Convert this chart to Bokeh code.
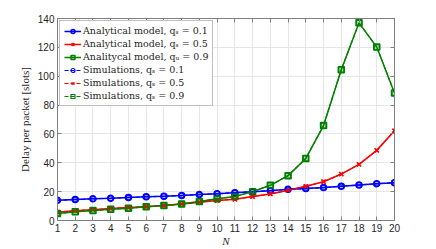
from bokeh.plotting import figure
from bokeh.models import LinearAxis, Legend, LegendItem, FixedTicker, Range1d
from bokeh.embed import file_html
from bokeh.resources import INLINE

N = list(range(1, 21))
ana_q01 = [14.0, 14.5, 15.0, 15.4, 15.9, 16.4, 16.8, 17.3, 18.0, 18.6,
           19.3, 20.0, 20.7, 21.6, 22.2, 22.8, 23.7, 24.6, 25.5, 26.2]
ana_q05 = [5.8, 6.8, 7.5, 8.3, 9.0, 9.5, 10.4, 11.5, 12.7, 13.8,
           14.7, 16.6, 18.4, 20.9, 23.7, 26.9, 32.2, 38.9, 48.6, 62.2]
ana_q09 = [4.9, 6.0, 6.9, 7.8, 8.5, 9.5, 10.4, 11.5, 13.1, 15.0,
           16.6, 20.0, 24.4, 31.1, 43.0, 65.8, 104.5, 137.0, 120.2, 88.4]
sim_q01 = [14.0, 14.5, 15.0, 15.4, 15.9, 16.4, 16.8, 17.3, 18.0, 18.6,
           19.3, 20.0, 20.7, 21.6, 22.1, 22.8, 23.7, 24.6, 25.5, 26.2]
sim_q05 = [5.8, 6.8, 7.5, 8.3, 9.0, 9.5, 10.4, 11.5, 12.7, 13.8,
           14.7, 16.6, 18.4, 20.9, 23.7, 26.9, 32.2, 38.9, 48.6, 62.2]
sim_q09 = [4.9, 6.0, 6.9, 7.8, 8.5, 9.5, 10.4, 11.5, 13.1, 15.0,
           16.6, 20.0, 24.4, 31.1, 43.0, 65.8, 104.5, 137.0, 120.2, 88.4]

labels_ana = ["Analytical model, q\u209b = 0.1",
              "Analytical model, q\u209b = 0.5",
              "Analitycal model, q\u1d64 = 0.9"]
labels_sim = ["Simulations, q\u209b = 0.1",
              "Simulations, q\u209b = 0.5",
              "Simulations, q\u209b = 0.9"]
colors = ["#0000ff", "#ff0000", "#008000"]
markers = ["circle", "x", "square"]

y_ticks = [0, 20, 40, 60, 80, 100, 120, 140]

p = figure(width=436, height=249, output_backend="svg", toolbar_location=None,
           x_range=Range1d(1, 20), y_range=Range1d(0, 140),
           min_border_left=57, min_border_right=42, min_border_top=18,
           min_border_bottom=28)
p.background_fill_color = "white"
p.border_fill_color = "white"
p.outline_line_color = "#808080"
p.outline_line_width = 1

axis_col = "#808080"
for ax in [p.xaxis[0], p.yaxis[0]]:
    ax.axis_line_color = axis_col
    ax.major_tick_line_color = axis_col
    ax.major_tick_in = 4
    ax.major_tick_out = 0
    ax.minor_tick_line_color = None
    ax.major_label_text_font = "Liberation Sans"
    ax.major_label_text_font_size = "10px"
    ax.major_label_text_color = "#262626"
    ax.axis_label_text_font = "Liberation Serif"
    ax.axis_label_text_font_size = "11px"
    ax.axis_label_text_font_style = "normal"
    ax.axis_label_text_color = "#262626"

p.xaxis[0].ticker = FixedTicker(ticks=N)
p.yaxis[0].ticker = FixedTicker(ticks=y_ticks)
p.xaxis[0].axis_label = "N"
p.xaxis[0].axis_label_text_font_style = "italic"
p.xaxis[0].major_label_standoff = 3
p.xaxis[0].axis_label_standoff = 0
p.yaxis[0].axis_label = "Delay per packet [slots]"
p.yaxis[0].major_label_standoff = 3
p.yaxis[0].axis_label_standoff = 4

top = LinearAxis(ticker=FixedTicker(ticks=N), major_label_text_font_size="1px",
                 major_label_text_color=None,
                 axis_line_color=axis_col, major_tick_line_color=axis_col,
                 major_tick_in=4, major_tick_out=0, minor_tick_line_color=None,
                 major_label_standoff=0)
right = LinearAxis(ticker=FixedTicker(ticks=y_ticks), major_label_text_font_size="1px",
                   major_label_text_color=None,
                   axis_line_color=axis_col, major_tick_line_color=axis_col,
                   major_tick_in=4, major_tick_out=0, minor_tick_line_color=None,
                   major_label_standoff=0)
p.add_layout(top, "above")
p.add_layout(right, "right")

p.xgrid.ticker = FixedTicker(ticks=N)
p.ygrid.ticker = FixedTicker(ticks=y_ticks)
p.grid.grid_line_color = "#e6e6e6"
p.grid.grid_line_width = 1

items = []
ana = [ana_q01, ana_q05, ana_q09]
sim = [sim_q01, sim_q05, sim_q09]
for i in range(3):
    l = p.line(N, ana[i], line_color=colors[i], line_width=1.5)
    m = p.scatter(N, ana[i], marker=markers[i], size=6, line_color=colors[i],
                  fill_color=colors[i], fill_alpha=0.25, line_width=1.5)
    items.append(LegendItem(label=labels_ana[i], renderers=[l, m]))
for i in range(3):
    l = p.line(N, sim[i], line_color=colors[i], line_width=1.2, line_dash="4 2")
    m = p.scatter(N, sim[i], marker=markers[i], size=5, line_color=colors[i],
                  fill_color="white", fill_alpha=0.0, line_width=1.2)
    items.append(LegendItem(label=labels_sim[i], renderers=[l, m]))

leg = Legend(items=items, location="top_left")
leg.label_text_font = "DejaVu Serif"
leg.label_text_font_size = "9.5px"
leg.label_text_color = "#262626"
leg.label_height = 10
leg.glyph_height = 10
leg.glyph_width = 17
leg.spacing = 2
leg.padding = 4
leg.margin = 2
leg.label_standoff = 2
leg.border_line_color = "#808080"
leg.border_line_width = 1
leg.background_fill_alpha = 1.0
p.add_layout(leg, "center")

open("out.html", "w").write(file_html(p, INLINE))
